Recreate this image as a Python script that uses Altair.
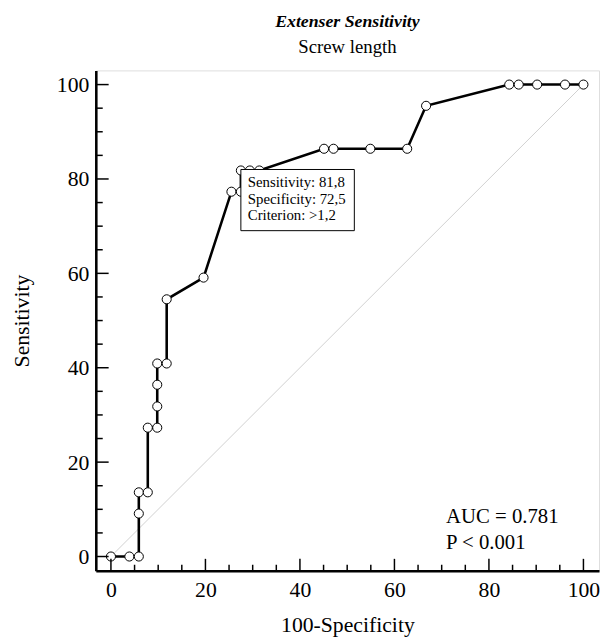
import altair as alt
import pandas as pd

# ROC curve points (100-Specificity, Sensitivity)
fpr = [0, 3.9, 5.9, 5.9, 5.9, 7.8, 7.8, 9.8, 9.8, 9.8, 9.8, 11.8, 11.8, 19.6,
       25.5, 27.5, 27.5, 29.4, 31.4, 45.1, 47.1, 54.9, 62.7, 66.7, 84.3, 86.3,
       90.2, 96.1, 100]
sens = [0, 0, 0, 9.1, 13.6, 13.6, 27.3, 27.3, 31.8, 36.4, 40.9, 40.9, 54.5, 59.1,
        77.3, 77.3, 81.8, 81.8, 81.8, 86.4, 86.4, 86.4, 86.4, 95.5, 100, 100,
        100, 100, 100]

diag_x = [0, 100]
diag_y = [0, 100]

major_ticks = [0, 20, 40, 60, 80, 100]
minor_ticks = [5, 10, 15, 25, 30, 35, 45, 50, 55, 65, 70, 75, 85, 90, 95]

crit_x = [27.5]
crit_y = [81.8]
crit_text = ["Sensitivity: 81,8\nSpecificity: 72,5\nCriterion: >1,2"]
auc_text = ["AUC = 0.781\nP < 0.001"]

W, H = 510, 507
FONT = "Liberation Serif"

roc = pd.DataFrame({"x": fpr, "y": sens, "i": list(range(len(fpr)))})
diag = pd.DataFrame({"x": diag_x, "y": diag_y})
maj = pd.DataFrame({"t": major_ticks})
mnr = pd.DataFrame({"t": minor_ticks})
crit = pd.DataFrame({"x": crit_x, "y": crit_y, "txt": crit_text})
auc = pd.DataFrame({"txt": auc_text})

xs = alt.Scale(domain=[-3.2, 103.3], nice=False, zero=False)
ys = alt.Scale(domain=[-3, 103], nice=False, zero=False)

xaxis = alt.Axis(values=major_ticks, ticks=False, grid=False, domainWidth=2.6,
                 domainColor="black", labelFont=FONT, labelFontSize=22,
                 labelColor="black", labelPadding=9, titleFont=FONT,
                 titleFontSize=22, titleFontWeight="normal", titleColor="black",
                 titlePadding=15)
yaxis = alt.Axis(values=major_ticks, ticks=False, grid=False, domainWidth=2.6,
                 domainColor="black", labelFont=FONT, labelFontSize=22,
                 labelColor="black", labelPadding=7, titleFont=FONT,
                 titleFontSize=22, titleFontWeight="normal", titleColor="black",
                 titlePadding=23)

diag_l = alt.Chart(diag).mark_line(color="#d0d0d0", strokeWidth=1).encode(
    x=alt.X("x:Q", scale=xs, axis=xaxis, title="100-Specificity"),
    y=alt.Y("y:Q", scale=ys, axis=yaxis, title="Sensitivity"),
)

line = alt.Chart(roc).mark_line(color="black", strokeWidth=2.6).encode(
    x=alt.X("x:Q", scale=xs), y=alt.Y("y:Q", scale=ys), order="i:Q"
)

pts = alt.Chart(roc).mark_point(shape="circle", filled=True, fill="white",
                                stroke="black", strokeWidth=1, size=85,
                                opacity=1).encode(
    x=alt.X("x:Q", scale=xs), y=alt.Y("y:Q", scale=ys)
)

bmaj = alt.Chart(maj).mark_rule(color="black", strokeWidth=1.5).encode(
    x=alt.X("t:Q", scale=xs), y=alt.value(H), y2=alt.value(H - 12))
bmin = alt.Chart(mnr).mark_rule(color="black", strokeWidth=1.5).encode(
    x=alt.X("t:Q", scale=xs), y=alt.value(H), y2=alt.value(H - 6))
lmaj = alt.Chart(maj).mark_rule(color="black", strokeWidth=1.5).encode(
    y=alt.Y("t:Q", scale=ys), x=alt.value(0), x2=alt.value(13))
lmin = alt.Chart(mnr).mark_rule(color="black", strokeWidth=1.5).encode(
    y=alt.Y("t:Q", scale=ys), x=alt.value(0), x2=alt.value(7))

box = alt.Chart(crit).mark_rect(fill="white", stroke="black", strokeWidth=1,
                                width=115, height=62, xOffset=57.5,
                                yOffset=30).encode(
    x=alt.X("x:Q", scale=xs), y=alt.Y("y:Q", scale=ys))

box_txt = alt.Chart(crit).mark_text(align="left", baseline="top", dx=7, dy=5,
                                    font=FONT, fontSize=15, lineHeight=16.5,
                                    lineBreak="\n", color="black").encode(
    x=alt.X("x:Q", scale=xs), y=alt.Y("y:Q", scale=ys), text="txt:N")

auc_txt = alt.Chart(auc).mark_text(align="left", baseline="alphabetic",
                                   font=FONT, fontSize=21, lineHeight=26,
                                   lineBreak="\n", color="black").encode(
    x=alt.value(355), y=alt.value(459), text="txt:N")

chart = alt.layer(diag_l, line, pts, bmaj, bmin, lmaj, lmin, box, box_txt,
                  auc_txt).properties(
    width=W, height=H,
    title=alt.TitleParams(text="Extenser Sensitivity", subtitle="Screw length",
                          font=FONT, fontSize=18, fontStyle="italic",
                          fontWeight="bold", color="black",
                          subtitleFont=FONT, subtitleFontSize=19,
                          subtitleColor="black", subtitlePadding=7,
                          anchor="middle", offset=14),
    autosize=alt.AutoSizeParams(type="none"),
    padding={"left": 89, "top": 59, "right": 2, "bottom": 66},
).configure_view(stroke=None).configure(background="white")

chart.save("out.html", embed_options={"renderer": "svg", "actions": False})
